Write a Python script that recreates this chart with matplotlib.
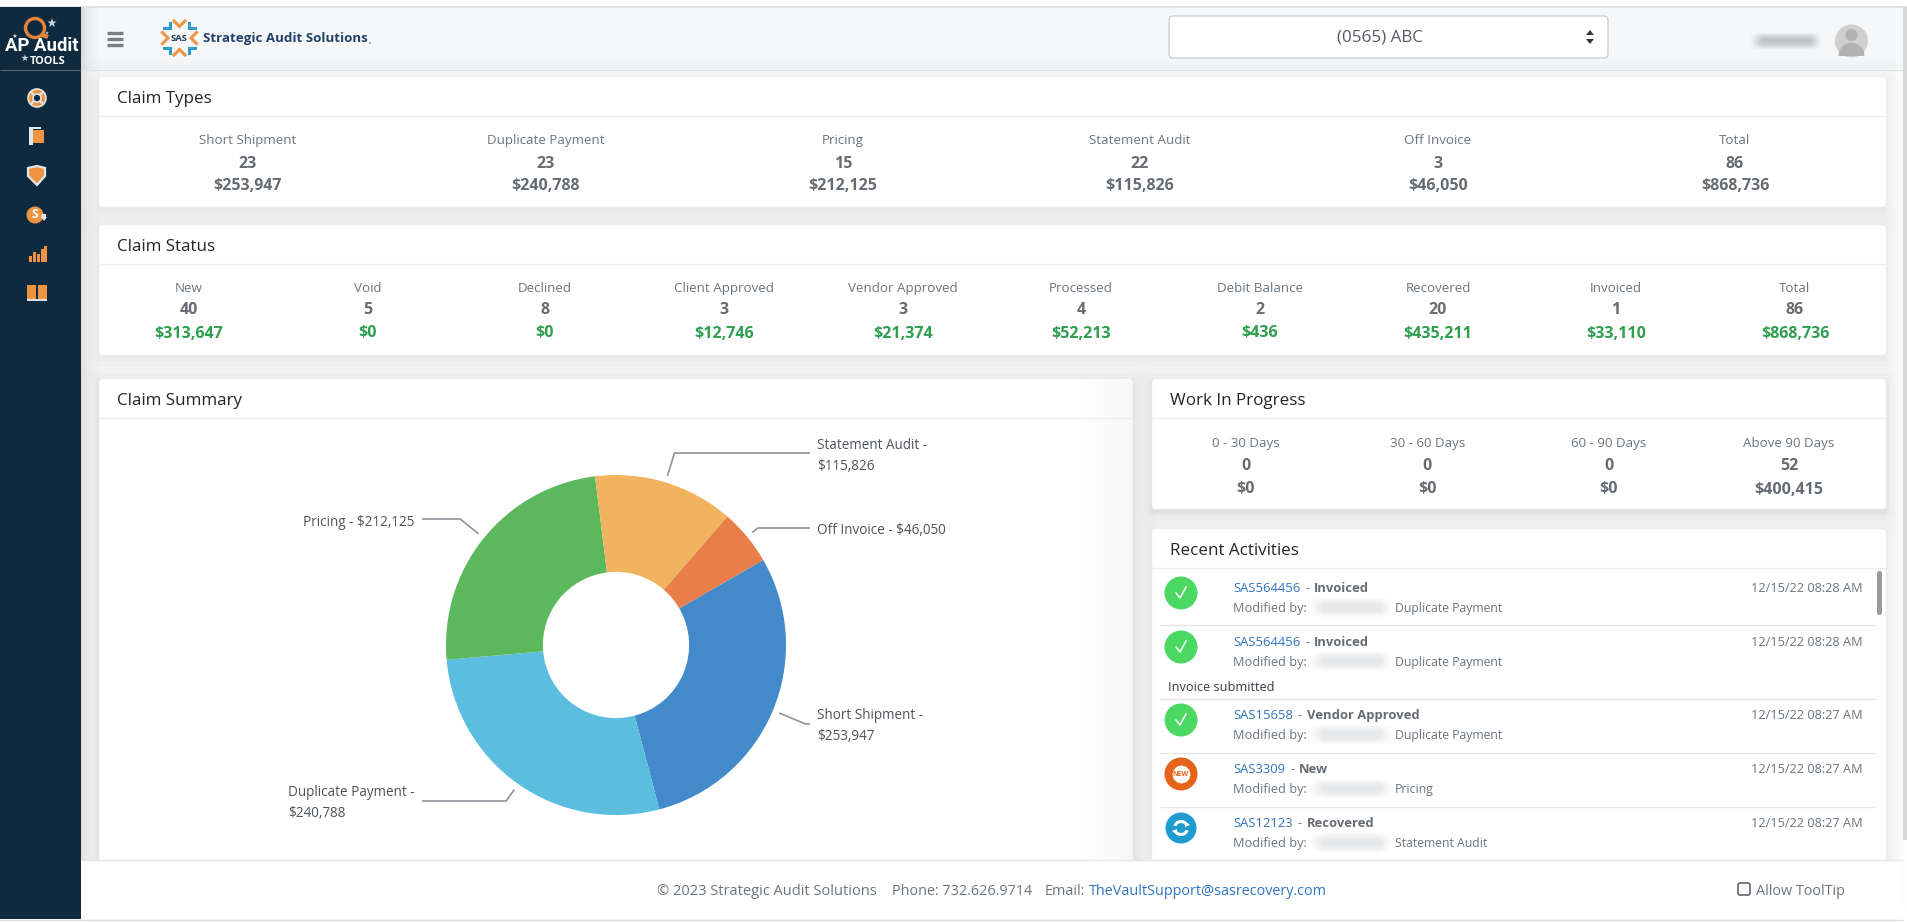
import numpy as np
import matplotlib
matplotlib.use('Agg')
import matplotlib.pyplot as plt
from matplotlib.patches import FancyBboxPatch, Rectangle, Circle, Wedge, Polygon, Arc

plt.rcParams['font.family'] = ['Open Sans', 'DejaVu Sans']

W, H = 1908, 923

# claim types
type_names = ['Short Shipment', 'Duplicate Payment', 'Pricing', 'Statement Audit', 'Off Invoice', 'Total']
type_counts = [23, 23, 15, 22, 3, 86]
type_amounts = [253947, 240788, 212125, 115826, 46050, 868736]

# claim status
status_names = ['New', 'Void', 'Declined', 'Client Approved', 'Vendor Approved', 'Processed',
                'Debit Balance', 'Recovered', 'Invoiced', 'Total']
status_counts = [40, 5, 8, 3, 3, 4, 2, 20, 1, 86]
status_amounts = [313647, 0, 0, 12746, 21374, 52213, 436, 435211, 33110, 868736]

# work in progress
wip_names = ['0 - 30 Days', '30 - 60 Days', '60 - 90 Days', 'Above 90 Days']
wip_counts = [0, 0, 0, 52]
wip_amounts = [0, 0, 0, 400415]

# donut
pie_names = ['Short Shipment', 'Duplicate Payment', 'Pricing', 'Statement Audit', 'Off Invoice']
pie_values = [253947, 240788, 212125, 115826, 46050]
pie_colors = ['#428aca', '#5bbede', '#5cb85c', '#f2b35e', '#e87e4a']

# recent activities
act_ids = ['SAS564456', 'SAS564456', 'SAS15658', 'SAS3309', 'SAS12123']
act_status = ['Invoiced', 'Invoiced', 'Vendor Approved', 'New', 'Recovered']
act_types = ['Duplicate Payment', 'Duplicate Payment', 'Duplicate Payment', 'Pricing', 'Statement Audit']
act_times = ['12/15/22 08:28 AM', '12/15/22 08:28 AM', '12/15/22 08:27 AM', '12/15/22 08:27 AM', '12/15/22 08:27 AM']


def px(size):
    # font size given in screen pixels
    return size * 0.72


fig = plt.figure(figsize=(W / 100, H / 100), dpi=100, facecolor='white')
ax = fig.add_axes([0, 0, 1, 1])
ax.set_xlim(0, W)
ax.set_ylim(H, 0)
ax.axis('off')

GRAY = '#6c757d'
DARK = '#666c72'
GREEN = '#2f9e4f'
LINK = '#2f74c0'


def rect(x0, y0, x1, y1, color, z=1, **kw):
    ax.add_patch(Rectangle((x0, y0), x1 - x0, y1 - y0, facecolor=color, edgecolor='none', zorder=z, **kw))


def line(xs, ys, color='#dfe2e5', lw=1.0, z=3):
    ax.plot(xs, ys, color=color, lw=lw, zorder=z, solid_capstyle='butt')


def text(x, y, s, size=14, color=GRAY, weight='normal', ha='left', z=6, **kw):
    # open sans sits a little high against the reference
    return ax.text(x, y + 1.5, s, fontsize=px(size), color=color, fontweight=weight, ha=ha, va='center', zorder=z, **kw)


def blur(x0, y0, x1, y1, color=(0.55, 0.56, 0.58), peak=0.6, z=7):
    # soft smudge standing in for the blurred names
    nx, ny = 80, 24
    gx = np.clip(np.minimum(np.linspace(0, 1, nx), np.linspace(1, 0, nx)) * 6, 0, 1)
    gy = np.sin(np.linspace(0, np.pi, ny))
    a = np.outer(gy, gx) * peak
    img = np.zeros((ny, nx, 4))
    img[..., 0], img[..., 1], img[..., 2] = color
    img[..., 3] = a
    ax.imshow(img, extent=(x0, x1, y1, y0), zorder=z, aspect='auto', interpolation='bilinear')


def card(x0, y0, x1, y1, head_y, title, shadow=1.0):
    steps = [(22, 0.006), (18, 0.006), (14, 0.008), (11, 0.008), (8, 0.01), (5, 0.01), (3, 0.012), (1, 0.015)]
    for grow, alpha in steps:
        ax.add_patch(FancyBboxPatch((x0 - grow, y0 - grow + 3), x1 - x0 + 2 * grow, y1 - y0 + 2 * grow,
                                    boxstyle='round,pad=0,rounding_size=%d' % (grow + 3),
                                    facecolor='black', edgecolor='none', alpha=alpha * shadow, zorder=1.5))
    ax.add_patch(FancyBboxPatch((x0, y0), x1 - x0, y1 - y0, boxstyle='round,pad=0,rounding_size=4',
                                facecolor='white', edgecolor='#f2f3f4', lw=0.5, zorder=2))
    line([x0, x1], [head_y, head_y], '#eceef0')
    text(x0 + 18, (y0 + head_y) / 2 + 1, title, size=17, color='#212529')


def stat_column(x, y_rows, name, count, amount, amount_color=DARK):
    text(x, y_rows[0], name, size=13.4, ha='center')
    text(x, y_rows[1], str(count), size=16, color=DARK, weight='bold', ha='center')
    text(x, y_rows[2], f'${amount:,}', size=16, color=amount_color, weight='bold', ha='center')


# page chrome
rect(0, 0, W, 6, 'white')
line([0, W], [6.5, 6.5], '#dcdfe2', 1.2)
rect(81, 7, W, 69, '#f6f7f9')
line([81, W], [69.5, 69.5], '#dfe2e5', 1.0)
rect(1903, 7, W, 840, '#d8d8d8', z=8)

# sidebar shadow + sidebar
for i, a in enumerate([0.10, 0.07, 0.05, 0.035, 0.02, 0.01]):
    rect(81 + i * 3, 7, 84 + i * 3, 919, 'black', z=1.2, alpha=a)
rect(0, 7, 81, 919, '#0f2a3f', z=9)
line([0, 81], [69.5, 69.5], '#51697a', 0.8, z=10)

# logo in sidebar
ax.add_patch(Circle((35, 28), 9.5, facecolor='none', edgecolor='#e8833a', lw=2.4, zorder=10))
line([42, 48], [35, 37], '#e8833a', 3, z=10)
ax.scatter([52, 47, 15, 25], [23, 33, 36, 58], marker='*', s=[50, 8, 14, 30], color='#c9d6df', zorder=10, linewidths=0)
text(41.5, 44.5, 'AP Audit', size=18.5, color='white', weight='bold', ha='center', z=10, family='Roboto')
text(48, 59.5, 'TOOLS', size=11, color='white', weight='bold', ha='center', z=10)

# sidebar icons
ORANGE = '#ee9442'
ICON = '#e3e6e8'
ax.add_patch(Circle((37, 98), 9, facecolor=ORANGE, edgecolor=ICON, lw=1.2, zorder=10))
ax.add_patch(Circle((37, 98), 4, facecolor='#0f2a3f', edgecolor=ICON, lw=1.2, zorder=11))
for ang in [45, 135, 225, 315]:
    t = np.deg2rad(ang)
    line([37 + 4 * np.cos(t), 37 + 9 * np.cos(t)], [98 + 4 * np.sin(t), 98 + 9 * np.sin(t)], ICON, 1.6, z=12)
rect(29, 127, 41, 145, ICON, z=10)
rect(33, 129, 44, 146, '#0f2a3f', z=10)
rect(33, 130, 44, 143, ORANGE, z=11)
ax.add_patch(Polygon([[28, 168], [37, 166], [45, 168], [45, 176], [37, 185], [28, 176]], closed=True,
                     facecolor=ORANGE, edgecolor=ICON, lw=1.6, zorder=10))
ax.add_patch(Circle((35, 215), 8.5, facecolor=ORANGE, edgecolor='none', zorder=10))
text(35, 213.5, 'S', size=12, color='white', weight='bold', ha='center', z=11)
ax.add_patch(Polygon([[42, 214], [46, 214], [46, 217], [47, 217], [44, 221], [41, 217]], closed=True,
                     facecolor=ICON, edgecolor='none', zorder=11))
for bx, bh in [(29, 6), (33, 10), (37, 8), (41, 13), (44, 16)]:
    rect(bx, 262 - bh, bx + 3, 262, ORANGE, z=10)
rect(27, 285, 36, 299, ORANGE, z=10)
rect(38, 285, 47, 299, ORANGE, z=10)
line([27, 47], [300, 300], ICON, 1.4, z=11)

# header
for yy in [32.5, 38.5, 44.5]:
    line([107, 123], [yy, yy], '#7a7f84', 2.4)

# SAS logo: chevrons around the name
for deg in range(0, 360, 45):
    straight = deg % 90 == 0
    col = '#ee9442' if straight else '#2f9ccb'
    r = 11.5 if straight else 13.5
    arm = 5.5 if straight else 4
    t = np.deg2rad(deg)
    cx, cy = 179.5 + r * np.cos(t), 38 + r * np.sin(t)
    nx, ny = np.cos(t), np.sin(t)
    tx, ty = -ny, nx
    ax.plot([cx + arm * nx + arm * tx, cx, cx + arm * nx - arm * tx],
            [cy + arm * ny + arm * ty, cy, cy + arm * ny - arm * ty],
            color=col, lw=2.2, zorder=5, solid_joinstyle='miter')
text(179.5, 37, 'SAS', size=9.5, color='#1d3c5c', weight='bold', ha='center')
text(203, 37, 'Strategic Audit Solutions', size=13.4, color='#22426a', weight='bold')
text(367, 39, '.', size=14, color='#9aa5ae', weight='bold')

# client picker
ax.add_patch(FancyBboxPatch((1169, 16), 439, 42, boxstyle='round,pad=0,rounding_size=4',
                            facecolor='white', edgecolor='#ced4da', lw=1.1, zorder=3))
text(1379.5, 36.5, '(0565) ABC', size=17, color='#555b61', ha='center')
ax.add_patch(Polygon([[1586, 35], [1594, 35], [1590, 30]], closed=True, facecolor='#343a40', edgecolor='none', zorder=5))
ax.add_patch(Polygon([[1586, 39], [1594, 39], [1590, 44]], closed=True, facecolor='#343a40', edgecolor='none', zorder=5))
blur(1750, 32, 1822, 50, peak=0.5)
ax.add_patch(Circle((1851.5, 41), 16.5, facecolor='#cfcfcf', edgecolor='none', zorder=4))
ax.add_patch(Circle((1851.5, 35), 6, facecolor='#b2b2b2', edgecolor='none', zorder=5))
ax.add_patch(Wedge((1851.5, 56), 13, 180, 360, facecolor='#b2b2b2', edgecolor='none', zorder=5))

# claim types card
card(99, 77, 1886, 207, 116, 'Claim Types')
type_x = [248, 546, 843, 1140, 1438, 1735]
for x, n, c, a in zip(type_x, type_names, type_counts, type_amounts):
    stat_column(x, (139, 162, 184), n, c, a)

# claim status card
card(99, 225, 1886, 355, 264, 'Claim Status')
status_x = [189, 367.5, 545, 724, 903, 1081, 1260, 1438, 1616, 1795]
for x, n, c, a in zip(status_x, status_names, status_counts, status_amounts):
    stat_column(x, (287, 309, 332), n, c, a, GREEN)

# summary + wip + activities cards
card(99, 379, 1133, 900, 418, 'Claim Summary', shadow=1.5)
card(1152, 379, 1886, 509, 418, 'Work In Progress', shadow=1.5)
wip_x = [1246, 1427.5, 1609, 1789]
for x, n, c, a in zip(wip_x, wip_names, wip_counts, wip_amounts):
    stat_column(x, (442, 465, 488), n, c, a)
card(1152, 529, 1886, 900, 568, 'Recent Activities')

# faint fade on the inside right edge of the summary card
fade = np.zeros((2, 60, 4))
fade[..., 3] = np.linspace(0, 0.035, 60)
ax.imshow(fade, extent=(1073, 1133, 860, 380), zorder=2.5, aspect='auto', interpolation='bilinear')

# donut
CX, CY, R = 616, 645, 170
pie_ax = fig.add_axes([(CX - R) / W, 1 - (CY + R) / H, 2 * R / W, 2 * R / H], zorder=5)
wedges, _ = pie_ax.pie(pie_values, colors=pie_colors, startangle=30, counterclock=False, radius=1,
                       wedgeprops=dict(width=0.57, linewidth=0))
pie_ax.set_xlim(-1, 1)
pie_ax.set_ylim(-1, 1)
pie_ax.patch.set_alpha(0)

# leader lines leave each slice at its mid angle, then run flat to the label
leader_y = [724, 801, 519, 453, 528]
leader_end = [810, 422, 422, 810, 810]
label_lines = [['Short Shipment -', '$253,947'], ['Duplicate Payment -', '$240,788'], ['Pricing - $212,125'],
               ['Statement Audit -', '$115,826'], ['Off Invoice - $46,050']]
label_x = [817, 288, 414, 817, 817]
label_y = [714, 791, 521, 444, 529]
label_ha = ['left', 'left', 'right', 'left', 'left']
for i, wd in enumerate(wedges):
    t = np.deg2rad((wd.theta1 + wd.theta2) / 2)
    sx, sy = CX + 1.04 * R * np.cos(t), CY - 1.04 * R * np.sin(t)
    r2 = (CY - leader_y[i]) / np.sin(t)
    ex = CX + r2 * np.cos(t)
    line([sx, ex, leader_end[i]], [sy, leader_y[i], leader_y[i]], '#8f9498', 1.2, z=4)
    for j, s in enumerate(label_lines[i]):
        text(label_x[i], label_y[i] + 21 * j, s, size=13.5, color='#4f5459', ha=label_ha[i])

# activities list
row_y = [587, 641, 714, 768, 822]
sep_y = [625, 699, 753, 807]
for yy in sep_y:
    line([1160, 1876], [yy, yy], '#e3e5e8')
fig.canvas.draw()
for i in range(len(act_ids)):
    y = row_y[i]
    id_txt = text(1233, y, act_ids[i], size=13, color=LINK)
    bb = id_txt.get_window_extent()
    text(bb.x1 + 5, y, '-', size=12.8)
    text(bb.x1 + 14, y, act_status[i], size=13, color=DARK, weight='bold')
    text(1233, y + 20, 'Modified by:', size=12.8)
    blur(1309, y + 10, 1393, y + 31, color=(0.72, 0.73, 0.75), peak=0.35)
    text(1395, y + 20, act_types[i], size=12.2)
    text(1863, y, act_times[i], size=12.8, ha='right')
    # status badge
    iy = y + 6
    if act_status[i] == 'New':
        ax.add_patch(Circle((1181, iy), 16.5, facecolor='#e5641c', edgecolor='none', zorder=5))
        ax.scatter([1181], [iy], marker=(12, 0, 0), s=170, color='white', zorder=6, linewidths=0)
        ax.text(1181, iy, 'NEW', fontsize=px(7), color='#e5641c', fontweight='bold', ha='center', va='center', zorder=7)
    elif act_status[i] == 'Recovered':
        ax.add_patch(Circle((1181, iy), 15.5, facecolor='#1f9bcf', edgecolor='none', zorder=5))
        ax.add_patch(Arc((1181, iy), 13, 13, theta1=20, theta2=160, color='white', lw=2.2, zorder=6))
        ax.add_patch(Arc((1181, iy), 13, 13, theta1=200, theta2=340, color='white', lw=2.2, zorder=6))
        ax.add_patch(Polygon([[1185, iy - 7], [1190, iy - 3], [1185, iy - 1]], closed=True, facecolor='white', zorder=6))
        ax.add_patch(Polygon([[1177, iy + 7], [1172, iy + 3], [1177, iy + 1]], closed=True, facecolor='white', zorder=6))
    else:
        ax.add_patch(Circle((1181, iy), 16.5, facecolor='#4bd964', edgecolor='none', zorder=5))
        ax.plot([1176, 1180, 1186], [iy, iy + 5, iy - 6], color='white', lw=1.1, zorder=6)
text(1168, 686, 'Invoice submitted', size=12.8, color='#343a40')
ax.add_patch(FancyBboxPatch((1877, 571), 5, 44, boxstyle='round,pad=0,rounding_size=2.5',
                            facecolor='#9a9a9a', edgecolor='none', zorder=6))

# footer sits over the cards
rect(81, 860, 1903, 919, 'white', z=12)
line([81, 1903], [860, 860], '#e3e5e8', 1.0, z=13)
line([0, 1903], [919.5, 919.5], '#dcdfe2', 1.0, z=13)
text(657, 890, '© 2023 Strategic Audit Solutions', size=14.6, z=14)
text(892, 890, 'Phone: 732.626.9714', size=14.4, z=14)
text(1045, 890, 'Email:', size=14.4, z=14)
text(1089, 890, 'TheVaultSupport@sasrecovery.com', size=14.4, color=LINK, z=14)
ax.add_patch(FancyBboxPatch((1738, 883), 12, 12, boxstyle='round,pad=0,rounding_size=2',
                            facecolor='white', edgecolor='#555b61', lw=1.1, zorder=14))
text(1756, 890, 'Allow ToolTip', size=14.4, z=14)

ax.set_xlim(0, W)
ax.set_ylim(H, 0)
fig.savefig('out.png', dpi=100)
